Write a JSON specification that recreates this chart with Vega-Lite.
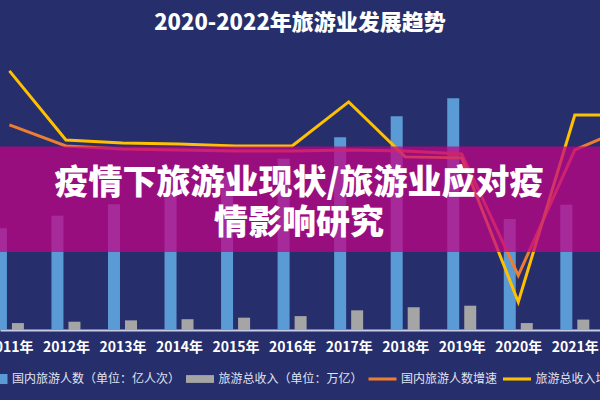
{
  "$schema": "https://vega.github.io/schema/vega-lite/v6.json",
  "width": 600,
  "height": 270,
  "autosize": {"type": "none"},
  "padding": {"left": 0, "top": 60, "right": 0, "bottom": 70},
  "background": "#262e6c",
  "config": {"view": {"stroke": null}, "font": "Noto Sans CJK SC"},
  "title": {
    "text": "2020-2022年旅游业发展趋势",
    "color": "#ffffff",
    "fontSize": 22,
    "fontWeight": 900,
    "font": "Noto Sans CJK SC",
    "anchor": "middle",
    "offset": 25
  },
  "datasets": {
    "tourism": [
      {"year": 2011, "people": 26.4, "revenue": 1.8, "peopleGrowth": 23.3, "revenueGrowth": 50.5},
      {"year": 2012, "people": 29.6, "revenue": 2.15, "peopleGrowth": 12.7, "revenueGrowth": 15.7},
      {"year": 2013, "people": 32.6, "revenue": 2.5, "peopleGrowth": 11.2, "revenueGrowth": 14.2},
      {"year": 2014, "people": 36.1, "revenue": 2.8, "peopleGrowth": 10.7, "revenueGrowth": 13.7},
      {"year": 2015, "people": 40.0, "revenue": 3.2, "peopleGrowth": 10.2, "revenueGrowth": 12.7},
      {"year": 2016, "people": 44.4, "revenue": 3.6, "peopleGrowth": 10.2, "revenueGrowth": 12.7},
      {"year": 2017, "people": 50.0, "revenue": 5.1, "peopleGrowth": 10.7, "revenueGrowth": 34.9},
      {"year": 2018, "people": 55.4, "revenue": 5.9, "peopleGrowth": 10.2, "revenueGrowth": 7.2},
      {"year": 2019, "people": 60.1, "revenue": 6.3, "peopleGrowth": 8.7, "revenueGrowth": 6.7},
      {"year": 2020, "people": 28.8, "revenue": 1.8, "peopleGrowth": -52.5, "revenueGrowth": -65.9},
      {"year": 2021, "people": 32.5, "revenue": 2.7, "peopleGrowth": 10.7, "revenueGrowth": 28.3},
      {"year": 2022, "people": null, "revenue": null, "peopleGrowth": 23.0, "revenueGrowth": 28.3}
    ],
    "banner": [{"from": 20.2, "to": 47.6}],
    "bannerText": [
      {"text": "疫情下旅游业现状/旅游业应对疫", "pos": 37.85},
      {"text": "情影响研究", "pos": 27.6}
    ]
  },
  "data": {"name": "tourism"},
  "encoding": {
    "x": {
      "field": "year",
      "type": "quantitative",
      "scale": {"domain": [2010.922, 2021.357], "nice": false, "zero": false},
      "axis": {
        "values": [2011, 2012, 2013, 2014, 2015, 2016, 2017, 2018, 2019, 2020, 2021],
        "labelExpr": "datum.value + '年'",
        "title": null,
        "ticks": false,
        "grid": false,
        "domainColor": "#c7cbe3",
        "domainWidth": 2,
        "labelColor": "#ffffff",
        "labelFont": "Noto Sans CJK SC",
        "labelFontSize": 14,
        "labelFontWeight": "bold",
        "labelPadding": 10,
        "labelOverlap": false,
        "labelFlush": false,
        "labelBound": false
      }
    }
  },
  "layer": [
    {
      "mark": {"type": "bar", "width": 12, "xOffset": -8.5, "color": "#5b9bd5"},
      "encoding": {
        "y": {"field": "people", "type": "quantitative", "scale": {"domain": [0, 70]}, "axis": null},
        "color": {
          "datum": "国内旅游人数（单位：亿人次）",
          "scale": {
            "domain": ["国内旅游人数（单位：亿人次）", "旅游总收入（单位：万亿）", "国内旅游人数增速", "旅游总收入增速"],
            "range": ["#5b9bd5", "#a5a5a5", "#ed7d31", "#ffc000"]
          },
          "legend": {
            "title": null,
            "orient": "none",
            "direction": "horizontal",
            "legendX": -20.5,
            "legendY": 305,
            "padding": 0,
            "columnPadding": 5.5,
            "labelOffset": 4.5,
            "labelColor": "#e0e3f0",
            "labelFont": "Noto Sans CJK SC",
            "labelFontSize": 12,
            "labelLimit": 400,
            "symbolSize": 784,
            "encode": {
              "symbols": {
                "update": {
                  "shape": {"signal": "datum.value === '国内旅游人数（单位：亿人次）' ? 'M0.3,-0.36H1V0.36H0.3Z' : datum.value === '旅游总收入（单位：万亿）' ? 'M-1,-0.28H1V0.28H-1Z' : 'M-1,-0.11H1V0.11H-1Z'"},
                  "fill": {"scale": "color", "field": "value"},
                  "fillOpacity": {"value": 1},
                  "opacity": {"value": 1},
                  "strokeWidth": {"value": 0}
                }
              }
            }
          }
        }
      }
    },
    {
      "mark": {"type": "bar", "width": 12, "xOffset": 8.5, "color": "#a5a5a5"},
      "encoding": {
        "y": {"field": "revenue", "type": "quantitative", "scale": {"domain": [0, 70]}, "axis": null},
        "color": {"datum": "旅游总收入（单位：万亿）"}
      }
    },
    {
      "mark": {"type": "line", "strokeWidth": 3},
      "encoding": {
        "y": {"field": "peopleGrowth", "type": "quantitative", "scale": {"domain": [-80, 56]}, "axis": null},
        "color": {"datum": "国内旅游人数增速"}
      }
    },
    {
      "mark": {"type": "line", "strokeWidth": 3},
      "encoding": {
        "y": {"field": "revenueGrowth", "type": "quantitative", "scale": {"domain": [-80, 56]}, "axis": null},
        "color": {"datum": "旅游总收入增速"}
      }
    },
    {
      "data": {"name": "banner"},
      "mark": {"type": "rect", "color": "#c20386", "opacity": 0.74},
      "encoding": {
        "x": {"value": 0},
        "x2": {"value": 600},
        "y": {"field": "from", "type": "quantitative", "scale": {"domain": [0, 70]}, "axis": null},
        "y2": {"field": "to"}
      }
    },
    {
      "data": {"name": "bannerText"},
      "mark": {"type": "text", "color": "#ffffff", "fontSize": 34, "fontWeight": 900, "font": "Noto Sans CJK SC", "align": "center", "baseline": "middle"},
      "encoding": {
        "x": {"value": 299},
        "y": {"field": "pos", "type": "quantitative", "scale": {"domain": [0, 70]}, "axis": null},
        "text": {"field": "text"}
      }
    }
  ],
  "resolve": {"scale": {"y": "independent"}}
}
